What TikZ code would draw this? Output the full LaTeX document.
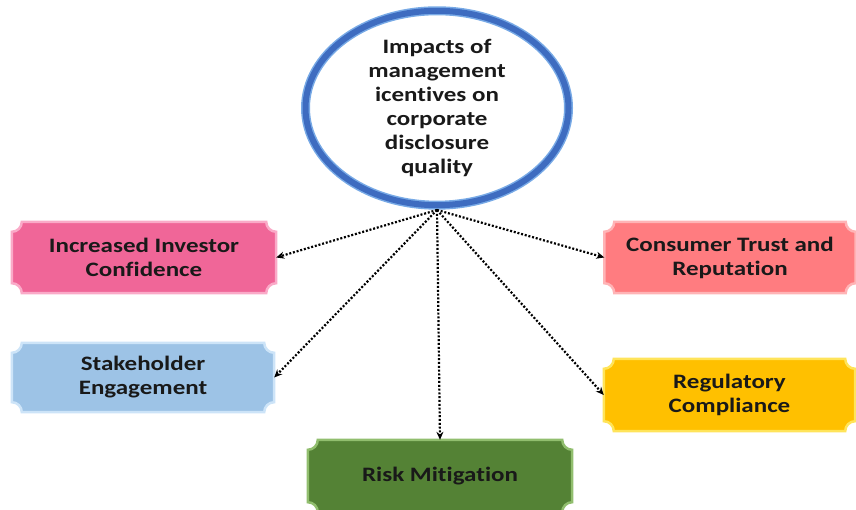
\documentclass[tikz,border=0pt]{standalone}
\usepackage{fontspec}
\setmainfont{Carlito}[FakeStretch=1.22,Ligatures=NoCommon]
\usetikzlibrary{shapes.geometric,arrows.meta,backgrounds}

\definecolor{ringblue}{RGB}{62,108,192}
\definecolor{ringlight}{RGB}{120,170,230}
\definecolor{pinkfill}{RGB}{240,102,152}
\definecolor{pinkedge}{RGB}{250,170,200}
\definecolor{salmonfill}{RGB}{255,124,128}
\definecolor{salmonedge}{RGB}{255,180,182}
\definecolor{skyfill}{RGB}{157,195,230}
\definecolor{skyedge}{RGB}{205,228,248}
\definecolor{goldfill}{RGB}{255,192,0}
\definecolor{goldedge}{RGB}{255,228,90}
\definecolor{leaffill}{RGB}{84,130,53}
\definecolor{leafedge}{RGB}{145,190,110}

% notched box behind a named node
\newcommand{\plaque}[3]{%
\begin{pgfonlayer}{background}
\filldraw[fill=#2,draw=#3,line width=2.5pt]
  ([xshift=10pt]#1.north west) -- ([xshift=-10pt]#1.north east)
  arc[start angle=180,end angle=270,radius=10pt]
  -- ([yshift=10pt]#1.south east)
  arc[start angle=90,end angle=180,radius=10pt]
  -- ([xshift=10pt]#1.south west)
  arc[start angle=0,end angle=90,radius=10pt]
  -- ([yshift=-10pt]#1.north west)
  arc[start angle=270,end angle=360,radius=10pt] -- cycle;
\end{pgfonlayer}}

\begin{document}
\begin{tikzpicture}[x=1pt,y=1pt,
  txt/.style={align=center,inner sep=0pt,text=black!90,
    font=\bfseries\fontsize{20.5}{24}\selectfont},
  box/.style={txt,minimum height=71pt},
  link/.style={line width=2.2pt,dash pattern=on 2pt off 1.8pt,
    -{Stealth[length=8pt,width=7pt]}}]
\useasboundingbox (0,0) rectangle (856,510);

\node[txt,ellipse,draw=ringlight,line width=1.5pt,double=ringblue,
  double distance=6pt,minimum width=263pt,minimum height=188pt]
  (impact) at (437,402)
  {Impacts of\\management\\icentives on\\corporate\\disclosure\\quality};

\node[box,minimum width=264pt] (invest) at (144,252.5) {Increased Investor\\Confidence};
\node[box,minimum width=251pt] (trust) at (730,252.5) {Consumer Trust and\\Reputation};
\node[box,minimum width=262pt,minimum height=69pt] (stake) at (143,132.5) {Stakeholder\\Engagement};
\node[box,minimum width=251pt,minimum height=72pt] (comply) at (729.5,115) {Regulatory\\Compliance};
\node[box,minimum width=264pt,minimum height=72pt] (risk) at (440,34) {Risk Mitigation};

\plaque{invest}{pinkfill}{pinkedge}
\plaque{trust}{salmonfill}{salmonedge}
\plaque{stake}{skyfill}{skyedge}
\plaque{comply}{goldfill}{goldedge}
\plaque{risk}{leaffill}{leafedge}

\coordinate (hub) at (437,300);
\foreach \t in {invest.east, trust.west, stake.east, comply.west, risk.north}
  \draw[link] (hub) -- (\t);
\end{tikzpicture}
\end{document}
